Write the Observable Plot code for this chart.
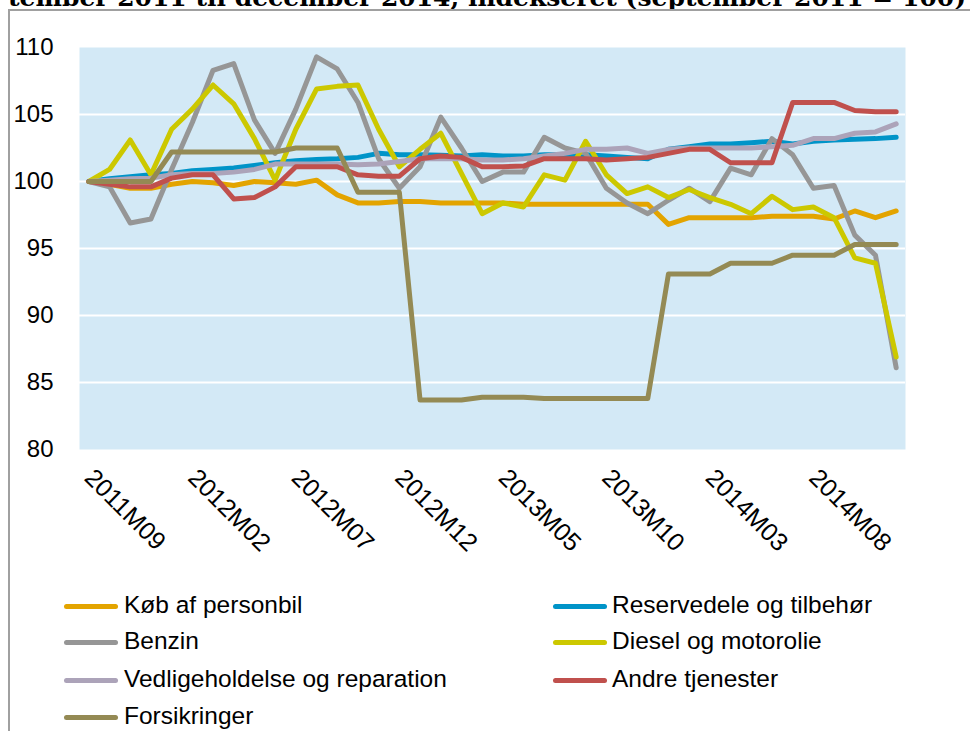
<!DOCTYPE html>
<html><head><meta charset="utf-8">
<script src="https://cdn.jsdelivr.net/npm/d3@7"></script>
<script src="https://cdn.jsdelivr.net/npm/@observablehq/plot@0.6"></script>
<style>
body{margin:0;background:#fff;}
#wrap{position:relative;width:970px;height:731px;overflow:hidden;font-family:"Liberation Sans",Arial,sans-serif;color:#000;}
#title{position:absolute;left:8px;top:-15px;white-space:nowrap;font-family:"DejaVu Serif",serif;font-weight:bold;font-size:25px;line-height:25px;}
#frame{position:absolute;left:8px;top:9px;right:-10px;bottom:-10px;border-left:2px solid #a0a0a0;border-top:2px solid #a0a0a0;}
#chart{position:absolute;left:0;top:0;}
.item{position:absolute;font-size:24.5px;line-height:24px;white-space:nowrap}
.sw{position:absolute;width:54px;height:5px;border-radius:3px}
</style>
</head><body>
<div id="wrap">
  <div id="title">tember 2011 til december 2014, indekseret (september 2011 = 100)</div>
  <div id="frame"></div>
  <div id="chart"></div>
  <div id="legend"></div>
</div>
<script>
const months = ["2011M09","2011M10","2011M11","2011M12","2012M01","2012M02","2012M03","2012M04","2012M05","2012M06",
"2012M07","2012M08","2012M09","2012M10","2012M11","2012M12","2013M01","2013M02","2013M03","2013M04",
"2013M05","2013M06","2013M07","2013M08","2013M09","2013M10","2013M11","2013M12","2014M01","2014M02",
"2014M03","2014M04","2014M05","2014M06","2014M07","2014M08","2014M09","2014M10","2014M11","2014M12"];
const tickLabels = ["2011M09","2012M02","2012M07","2012M12","2013M05","2013M10","2014M03","2014M08"];
const yTicks = [80,85,90,95,100,105,110];

const seriesNames = ["Køb af personbil","Reservedele og tilbehør","Benzin","Diesel og motorolie","Vedligeholdelse og reparation","Andre tjenester","Forsikringer"];
const seriesColors = ["#E3A400","#0094C8","#969696","#CCC800","#ACA3B9","#C0504D","#948A54"];

const kob = [100,99.8,99.5,99.5,99.8,100.0,99.9,99.7,100.0,99.9,99.8,100.1,99.0,98.4,98.4,98.5,98.5,98.4,98.4,98.4,98.4,98.3,98.3,98.3,98.3,98.3,98.3,98.3,96.8,97.3,97.3,97.3,97.3,97.4,97.4,97.4,97.2,97.8,97.3,97.8];
const reservedele = [100,100.2,100.35,100.5,100.6,100.8,100.9,101.0,101.2,101.4,101.55,101.65,101.7,101.8,102.1,102.0,102.0,101.95,101.9,102.0,101.9,101.9,102.0,102.0,102.0,101.9,101.8,101.7,102.4,102.6,102.8,102.8,102.9,103.0,102.8,103.0,103.1,103.15,103.2,103.3];
const benzin = [100,99.6,96.9,97.2,100.9,104.4,108.3,108.8,104.6,102.1,105.4,109.3,108.4,105.9,101.7,99.5,101.1,104.8,102.5,100.0,100.7,100.7,103.3,102.5,102.1,99.5,98.4,97.6,98.6,99.5,98.5,101.0,100.5,103.2,102.0,99.5,99.7,96.0,94.5,86.1];
const diesel = [100,100.9,103.1,100.5,103.9,105.4,107.2,105.8,103.2,100.1,103.9,106.9,107.1,107.2,103.9,101.1,102.4,103.6,100.6,97.6,98.4,98.1,100.5,100.1,103.0,100.5,99.1,99.6,98.8,99.4,98.8,98.3,97.6,98.9,97.9,98.1,97.3,94.3,93.9,86.9];
const vedlige = [100,100.1,100.2,100.25,100.5,100.6,100.6,100.7,100.9,101.3,101.3,101.3,101.3,101.25,101.3,101.5,101.7,101.7,101.7,101.6,101.6,101.7,101.9,102.1,102.4,102.4,102.5,102.1,102.4,102.5,102.5,102.5,102.5,102.6,102.7,103.2,103.2,103.6,103.7,104.3];
const andre = [100,99.8,99.6,99.6,100.25,100.5,100.5,98.7,98.8,99.6,101.1,101.1,101.1,100.5,100.4,100.4,101.7,101.9,101.8,101.1,101.1,101.15,101.7,101.7,101.7,101.6,101.7,101.8,102.1,102.4,102.4,101.4,101.4,101.4,105.9,105.9,105.9,105.3,105.2,105.2];
const forsikringer = [100,100,100,100,102.2,102.2,102.2,102.2,102.2,102.2,102.5,102.5,102.5,99.2,99.2,99.2,83.7,83.7,83.7,83.9,83.9,83.9,83.8,83.8,83.8,83.8,83.8,83.8,93.1,93.1,93.1,93.9,93.9,93.9,94.5,94.5,94.5,95.3,95.3,95.3];

const seriesValues = [kob, reservedele, benzin, diesel, vedlige, andre, forsikringer];
const data = [];
seriesNames.forEach((name, s) => {
  seriesValues[s].forEach((v, i) => data.push({series: name, idx: months.indexOf(months[i]), month: months[i], value: v}));
});
const tickIdx = tickLabels.map(t => months.indexOf(t));

const chart = Plot.plot({
  width: 970, height: 580,
  marginLeft: 79, marginRight: 65, marginTop: 47, marginBottom: 131,
  style: {fontFamily: "Liberation Sans, Arial, sans-serif", fontSize: "24px", color: "#000", background: "transparent", overflow: "visible"},
  x: {type: "linear", domain: [-0.45, 39.45], label: null},
  y: {domain: [80, 110], label: null},
  color: {domain: seriesNames, range: seriesColors},
  marks: [
    Plot.frame({fill: "#D3E9F6", stroke: null}),
    Plot.ruleY([85, 90, 95, 100, 105], {stroke: "#fff", strokeWidth: 2}),
    Plot.line(data, {x: "idx", y: "value", z: "series", stroke: "series", strokeWidth: 5, strokeLinejoin: "round", strokeLinecap: "round"}),
    Plot.axisY({ticks: yTicks, tickSize: 0, tickPadding: 26, fontSize: 24, label: null}),
    Plot.axisX({ticks: tickIdx, tickFormat: i => months[i], tickSize: 0, tickPadding: 24, tickRotate: 45, fontSize: 25, label: null})
  ]
});
document.getElementById("chart").appendChild(chart);

const legend = document.getElementById("legend");
const rowsY = [606, 642, 680, 717];
seriesNames.forEach((name, k) => {
  const col = k % 2, row = Math.floor(k / 2);
  const swLeft = col === 0 ? 64 : 553;
  const txLeft = col === 0 ? 124 : 612;
  const y = rowsY[row];
  const sw = document.createElement("div");
  sw.className = "sw";
  sw.style.left = swLeft + "px";
  sw.style.top = (y - 2.5) + "px";
  sw.style.background = seriesColors[k];
  legend.appendChild(sw);
  const tx = document.createElement("div");
  tx.className = "item";
  tx.style.left = txLeft + "px";
  tx.style.top = (y - 13) + "px";
  tx.textContent = name;
  legend.appendChild(tx);
});
</script>
</body></html>
